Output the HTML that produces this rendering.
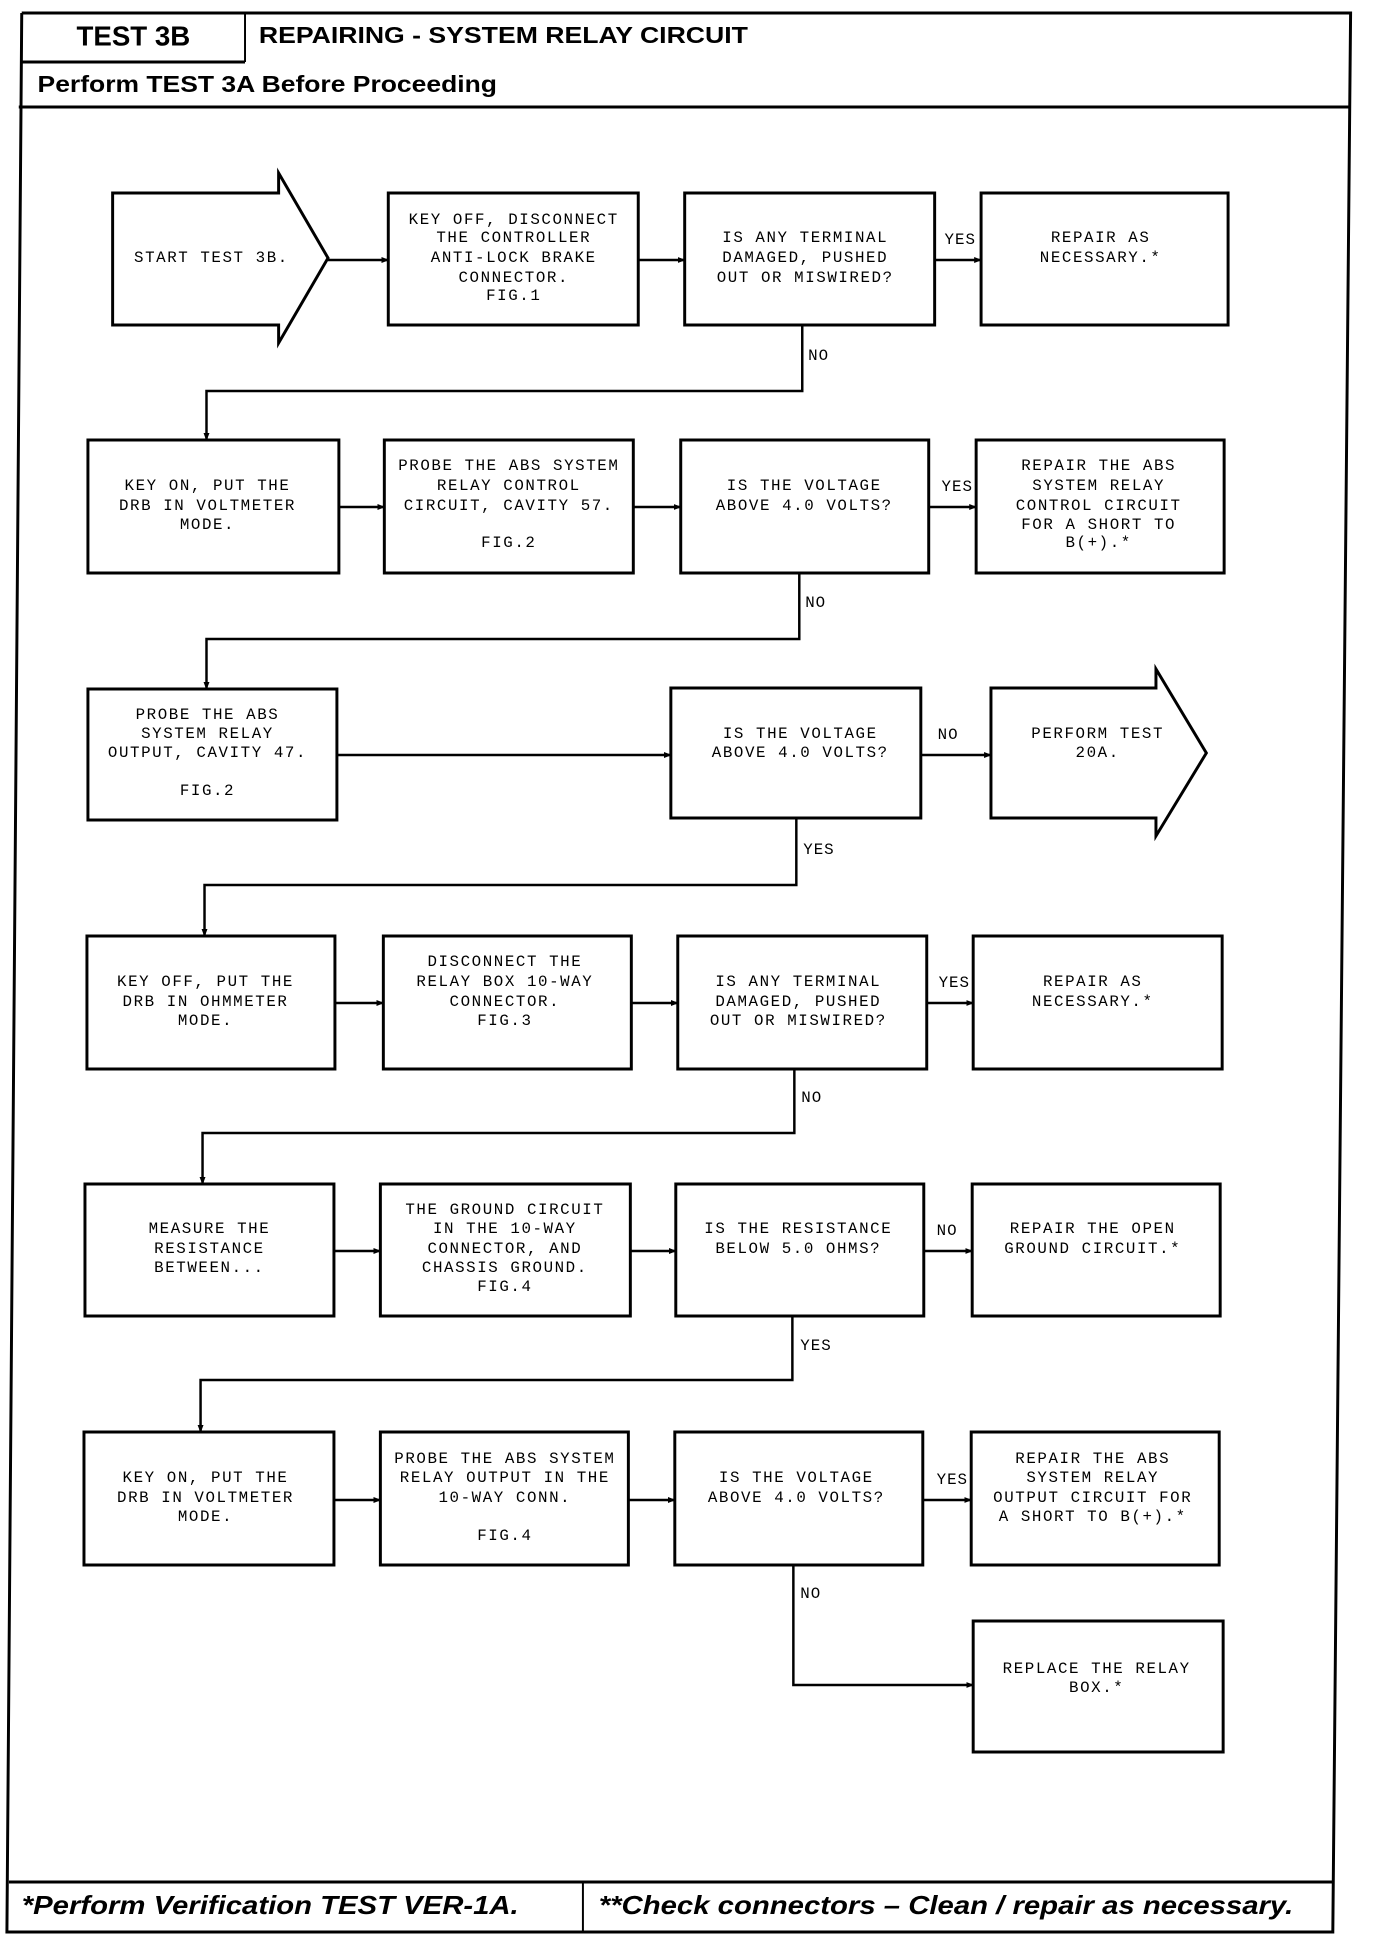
<!DOCTYPE html>
<html><head><meta charset="utf-8"><style>
html,body{margin:0;padding:0;background:#fff;}
svg{display:block;}
.t{font-family:"Liberation Mono",monospace;font-size:16px;letter-spacing:1.6px;text-anchor:middle;dominant-baseline:middle;fill:#000;}
.l{font-family:"Liberation Mono",monospace;font-size:16px;letter-spacing:1px;dominant-baseline:middle;fill:#000;}
.b{fill:#fff;stroke:#000;stroke-width:3;}
.c{fill:none;stroke:#000;stroke-width:2.5;}
</style></head><body>
<svg width="1376" height="1940" viewBox="0 0 1376 1940" xmlns="http://www.w3.org/2000/svg">
<defs><marker id="a" markerWidth="8" markerHeight="8" refX="7" refY="4" orient="auto" markerUnits="userSpaceOnUse"><path d="M0,1 L8,4 L0,7 z" fill="#000"/></marker></defs>
<g transform="scale(0.988,1)">
<!-- frame -->
<polyline points="22,13 1367,13 1349,1932 7,1932 22,13" fill="none" stroke="#000" stroke-width="3"/>
<line x1="22" y1="62" x2="248" y2="62" stroke="#000" stroke-width="3"/>
<line x1="248" y1="13" x2="248" y2="62" stroke="#000" stroke-width="2"/>
<line x1="19" y1="107" x2="1366" y2="107" stroke="#000" stroke-width="3"/>
<line x1="9" y1="1882" x2="1350" y2="1882" stroke="#000" stroke-width="3"/>
<line x1="590" y1="1882" x2="590" y2="1932" stroke="#000" stroke-width="2"/>
<text x="135" y="38" style="font-family:'Liberation Sans',sans-serif;font-weight:bold;font-size:28px;text-anchor:middle;dominant-baseline:middle">TEST 3B</text>
<text x="262" y="37" textLength="495" lengthAdjust="spacingAndGlyphs" style="font-family:'Liberation Sans',sans-serif;font-weight:bold;font-size:23px;dominant-baseline:middle">REPAIRING - SYSTEM RELAY CIRCUIT</text>
<text x="38" y="86" textLength="465" lengthAdjust="spacingAndGlyphs" style="font-family:'Liberation Sans',sans-serif;font-weight:bold;font-size:23px;dominant-baseline:middle">Perform TEST 3A Before Proceeding</text>
<text x="22" y="1907" textLength="503" lengthAdjust="spacingAndGlyphs" style="font-family:'Liberation Sans',sans-serif;font-weight:bold;font-style:italic;font-size:26px;dominant-baseline:middle">*Perform Verification TEST VER-1A.</text>
<text x="606" y="1907" textLength="703" lengthAdjust="spacingAndGlyphs" style="font-family:'Liberation Sans',sans-serif;font-weight:bold;font-style:italic;font-size:26px;dominant-baseline:middle">**Check connectors – Clean / repair as necessary.</text>

<!-- Row 1 -->
<polygon class="b" points="114,193 282,193 282,173 332,258 282,343 282,325 114,325"/>
<text class="t" x="214" y="258">START TEST 3B.</text>
<rect class="b" x="393" y="193" width="253" height="132"/>
<text class="t" x="520" y="220">KEY OFF, DISCONNECT</text>
<text class="t" x="520" y="238">THE CONTROLLER</text>
<text class="t" x="520" y="258">ANTI-LOCK BRAKE</text>
<text class="t" x="520" y="278">CONNECTOR.</text>
<text class="t" x="520" y="296">FIG.1</text>
<rect class="b" x="693" y="193" width="253" height="132"/>
<text class="t" x="815" y="238">IS ANY TERMINAL</text>
<text class="t" x="815" y="258">DAMAGED, PUSHED</text>
<text class="t" x="815" y="278">OUT OR MISWIRED?</text>
<rect class="b" x="993" y="193" width="250" height="132"/>
<text class="t" x="1114" y="238">REPAIR AS</text>
<text class="t" x="1114" y="258">NECESSARY.*</text>
<line class="c" x1="332" y1="260" x2="393" y2="260" marker-end="url(#a)"/>
<line class="c" x1="646" y1="260" x2="693" y2="260" marker-end="url(#a)"/>
<line class="c" x1="946" y1="260" x2="993" y2="260" marker-end="url(#a)"/>
<text class="l" x="956" y="240">YES</text>
<polyline class="c" points="812,325 812,391 209,391 209,440" marker-end="url(#a)"/>
<text class="l" x="818" y="356">NO</text>

<!-- Row 2 -->
<rect class="b" x="89" y="440" width="254" height="133"/>
<text class="t" x="210" y="486">KEY ON, PUT THE</text>
<text class="t" x="210" y="506">DRB IN VOLTMETER</text>
<text class="t" x="210" y="525">MODE.</text>
<rect class="b" x="389" y="440" width="252" height="133"/>
<text class="t" x="515" y="466">PROBE THE ABS SYSTEM</text>
<text class="t" x="515" y="486">RELAY CONTROL</text>
<text class="t" x="515" y="506">CIRCUIT, CAVITY 57.</text>
<text class="t" x="515" y="543">FIG.2</text>
<rect class="b" x="689" y="440" width="251" height="133"/>
<text class="t" x="814" y="486">IS THE VOLTAGE</text>
<text class="t" x="814" y="506">ABOVE 4.0 VOLTS?</text>
<rect class="b" x="988" y="440" width="251" height="133"/>
<text class="t" x="1112" y="466">REPAIR THE ABS</text>
<text class="t" x="1112" y="486">SYSTEM RELAY</text>
<text class="t" x="1112" y="506">CONTROL CIRCUIT</text>
<text class="t" x="1112" y="525">FOR A SHORT TO</text>
<text class="t" x="1112" y="543">B(+).*</text>
<line class="c" x1="343" y1="507" x2="389" y2="507" marker-end="url(#a)"/>
<line class="c" x1="641" y1="507" x2="689" y2="507" marker-end="url(#a)"/>
<line class="c" x1="940" y1="507" x2="988" y2="507" marker-end="url(#a)"/>
<text class="l" x="953" y="487">YES</text>
<polyline class="c" points="809,573 809,639 209,639 209,689" marker-end="url(#a)"/>
<text class="l" x="815" y="603">NO</text>

<!-- Row 3 -->
<rect class="b" x="89" y="689" width="252" height="131"/>
<text class="t" x="210" y="715">PROBE THE ABS</text>
<text class="t" x="210" y="734">SYSTEM RELAY</text>
<text class="t" x="210" y="753">OUTPUT, CAVITY 47.</text>
<text class="t" x="210" y="791">FIG.2</text>
<rect class="b" x="679" y="688" width="253" height="130"/>
<text class="t" x="810" y="734">IS THE VOLTAGE</text>
<text class="t" x="810" y="753">ABOVE 4.0 VOLTS?</text>
<polygon class="b" points="1003,688 1170,688 1170,669 1221,753 1170,836 1170,818 1003,818"/>
<text class="t" x="1111" y="734">PERFORM TEST</text>
<text class="t" x="1111" y="753">20A.</text>
<line class="c" x1="341" y1="755" x2="679" y2="755" marker-end="url(#a)"/>
<line class="c" x1="932" y1="755" x2="1003" y2="755" marker-end="url(#a)"/>
<text class="l" x="949" y="735">NO</text>
<polyline class="c" points="806,818 806,885 207,885 207,936" marker-end="url(#a)"/>
<text class="l" x="813" y="850">YES</text>

<!-- Row 4 -->
<rect class="b" x="88" y="936" width="251" height="133"/>
<text class="t" x="208" y="982">KEY OFF, PUT THE</text>
<text class="t" x="208" y="1002">DRB IN OHMMETER</text>
<text class="t" x="208" y="1021">MODE.</text>
<rect class="b" x="388" y="936" width="251" height="133"/>
<text class="t" x="511" y="962">DISCONNECT THE</text>
<text class="t" x="511" y="982">RELAY BOX 10-WAY</text>
<text class="t" x="511" y="1002">CONNECTOR.</text>
<text class="t" x="511" y="1021">FIG.3</text>
<rect class="b" x="686" y="936" width="252" height="133"/>
<text class="t" x="808" y="982">IS ANY TERMINAL</text>
<text class="t" x="808" y="1002">DAMAGED, PUSHED</text>
<text class="t" x="808" y="1021">OUT OR MISWIRED?</text>
<rect class="b" x="985" y="936" width="252" height="133"/>
<text class="t" x="1106" y="982">REPAIR AS</text>
<text class="t" x="1106" y="1002">NECESSARY.*</text>
<line class="c" x1="339" y1="1003" x2="388" y2="1003" marker-end="url(#a)"/>
<line class="c" x1="639" y1="1003" x2="686" y2="1003" marker-end="url(#a)"/>
<line class="c" x1="938" y1="1003" x2="985" y2="1003" marker-end="url(#a)"/>
<text class="l" x="950" y="983">YES</text>
<polyline class="c" points="804,1069 804,1133 205,1133 205,1184" marker-end="url(#a)"/>
<text class="l" x="811" y="1098">NO</text>

<!-- Row 5 -->
<rect class="b" x="86" y="1184" width="252" height="132"/>
<text class="t" x="212" y="1229">MEASURE THE</text>
<text class="t" x="212" y="1249">RESISTANCE</text>
<text class="t" x="212" y="1268">BETWEEN...</text>
<rect class="b" x="385" y="1184" width="253" height="132"/>
<text class="t" x="511" y="1210">THE GROUND CIRCUIT</text>
<text class="t" x="511" y="1229">IN THE 10-WAY</text>
<text class="t" x="511" y="1249">CONNECTOR, AND</text>
<text class="t" x="511" y="1268">CHASSIS GROUND.</text>
<text class="t" x="511" y="1287">FIG.4</text>
<rect class="b" x="684" y="1184" width="251" height="132"/>
<text class="t" x="808" y="1229">IS THE RESISTANCE</text>
<text class="t" x="808" y="1249">BELOW 5.0 OHMS?</text>
<rect class="b" x="984" y="1184" width="251" height="132"/>
<text class="t" x="1106" y="1229">REPAIR THE OPEN</text>
<text class="t" x="1106" y="1249">GROUND CIRCUIT.*</text>
<line class="c" x1="338" y1="1251" x2="385" y2="1251" marker-end="url(#a)"/>
<line class="c" x1="638" y1="1251" x2="684" y2="1251" marker-end="url(#a)"/>
<line class="c" x1="935" y1="1251" x2="984" y2="1251" marker-end="url(#a)"/>
<text class="l" x="948" y="1231">NO</text>
<polyline class="c" points="802,1316 802,1380 203,1380 203,1432" marker-end="url(#a)"/>
<text class="l" x="810" y="1346">YES</text>

<!-- Row 6 -->
<rect class="b" x="85" y="1432" width="253" height="133"/>
<text class="t" x="208" y="1478">KEY ON, PUT THE</text>
<text class="t" x="208" y="1498">DRB IN VOLTMETER</text>
<text class="t" x="208" y="1517">MODE.</text>
<rect class="b" x="385" y="1432" width="251" height="133"/>
<text class="t" x="511" y="1459">PROBE THE ABS SYSTEM</text>
<text class="t" x="511" y="1478">RELAY OUTPUT IN THE</text>
<text class="t" x="511" y="1498">10-WAY CONN.</text>
<text class="t" x="511" y="1536">FIG.4</text>
<rect class="b" x="683" y="1432" width="251" height="133"/>
<text class="t" x="806" y="1478">IS THE VOLTAGE</text>
<text class="t" x="806" y="1498">ABOVE 4.0 VOLTS?</text>
<rect class="b" x="983" y="1432" width="251" height="133"/>
<text class="t" x="1106" y="1459">REPAIR THE ABS</text>
<text class="t" x="1106" y="1478">SYSTEM RELAY</text>
<text class="t" x="1106" y="1498">OUTPUT CIRCUIT FOR</text>
<text class="t" x="1106" y="1517">A SHORT TO B(+).*</text>
<line class="c" x1="338" y1="1500" x2="385" y2="1500" marker-end="url(#a)"/>
<line class="c" x1="636" y1="1500" x2="683" y2="1500" marker-end="url(#a)"/>
<line class="c" x1="934" y1="1500" x2="983" y2="1500" marker-end="url(#a)"/>
<text class="l" x="948" y="1480">YES</text>
<polyline class="c" points="803,1565 803,1685 985,1685" marker-end="url(#a)"/>
<text class="l" x="810" y="1594">NO</text>

<!-- Row 7 -->
<rect class="b" x="985" y="1621" width="253" height="131"/>
<text class="t" x="1110" y="1669">REPLACE THE RELAY</text>
<text class="t" x="1110" y="1688">BOX.*</text>
</g>
</svg>
</body></html>
